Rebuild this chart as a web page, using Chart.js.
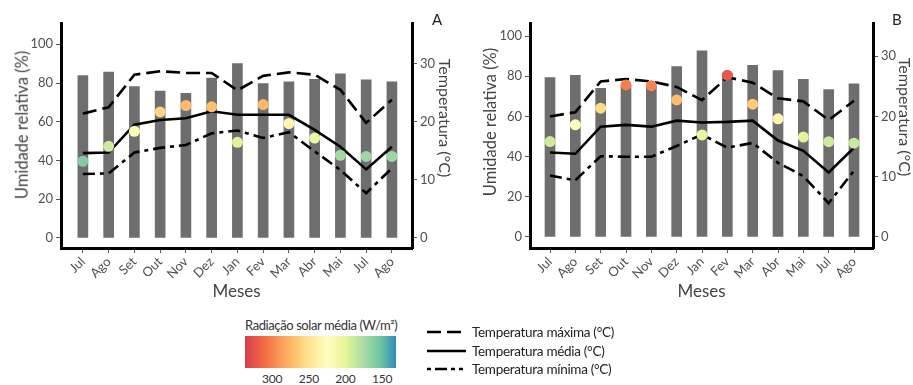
<!DOCTYPE html>
<html>
<head>
<meta charset="utf-8">
<script src="https://cdn.jsdelivr.net/npm/chart.js@4.4.1/dist/chart.umd.min.js"></script>
<style>
  body { margin: 0; background: #fff; font-family: Lato, "Open Sans", sans-serif; }
  #wrap { position: relative; width: 913px; height: 385px; overflow: hidden; }
  canvas { position: absolute; top: 0; }
  .lbl { position: absolute; color: #222; font-size: 15px; line-height: 1; }
  .ytitle { position: absolute; color: #444; font-size: 16.5px; white-space: nowrap; line-height: 1; }
  .ytitle.l { transform: translate(-50%, -50%) rotate(-90deg); }
  .ytitle.r { transform: translate(-50%, -50%) rotate(90deg); font-size: 16px; }
  .tick { position: absolute; color: #333; font-size: 12px; letter-spacing: -0.2px; transform: translateX(-50%); }
  .leg { position: absolute; left: 472px; color: #222; font-size: 13.5px; letter-spacing: -0.3px; line-height: 18px; }
</style>
</head>
<body>
<div id="wrap">
  <canvas id="chartA" width="458" height="305" style="left:0"></canvas>
  <canvas id="chartB" width="435" height="305" style="left:478px"></canvas>
  <div class="lbl" style="left:432px;top:12px">A</div>
  <div class="lbl" style="left:892px;top:12px">B</div>

  <div class="ytitle l" style="left:21.5px;top:125px">Umidade relativa (%)</div>
  <div class="ytitle r" style="left:445px;top:118px">Temperatura (°C)</div>
  <div class="ytitle l" style="left:490px;top:122px">Umidade relativa (%)</div>
  <div class="ytitle r" style="left:905px;top:117px">Temperatura (°C)</div>

  <div class="leg" style="left:245px;top:316px;color:#333;font-size:13px;letter-spacing:-0.4px">Radiação solar média (W/m²)</div>
  <div id="cbar" style="position:absolute;left:245px;top:336px;width:151px;height:32px"></div>
  <div id="cbTicks"></div>

  <svg style="position:absolute;left:0;top:0" width="913" height="385">
    <line x1="427" y1="332" x2="466" y2="332" stroke="#000" stroke-width="2.6" stroke-dasharray="14 6"/>
    <line x1="427" y1="351" x2="466" y2="351" stroke="#000" stroke-width="2.6"/>
    <line x1="427" y1="369" x2="466" y2="369" stroke="#000" stroke-width="2.6" stroke-dasharray="4 4 12 4 4"/>
  </svg>
  <div class="leg" style="top:323px">Temperatura máxima (°C)</div>
  <div class="leg" style="top:342px">Temperatura média (°C)</div>
  <div class="leg" style="top:360px">Temperatura mínima (°C)</div>
</div>

<script>
// meses (jul do 1º ano até ago do ano seguinte)
const months = ['Jul', 'Ago', 'Set', 'Out', 'Nov', 'Dez', 'Jan', 'Fev', 'Mar', 'Abr', 'Mai', 'Jul', 'Ago'];
const humTicks = [0, 20, 40, 60, 80, 100];
const tempTicks = [0, 10, 20, 30];
const radTicks = [300, 250, 200, 150];

// painel A
const humA = [83.8, 85.7, 78.1, 75.9, 74.7, 82.6, 90.0, 79.7, 80.6, 81.9, 84.7, 81.7, 80.6];
const tmaxA = [21.4, 22.5, 28.1, 28.7, 28.4, 28.4, 25.4, 27.9, 28.5, 28.1, 25.5, 19.8, 23.8];
const tmedA = [14.6, 14.7, 19.5, 20.3, 20.6, 21.8, 21.2, 21.2, 21.2, 18.6, 15.7, 11.8, 15.7];
const tminA = [11.0, 11.1, 14.7, 15.5, 16.0, 18.0, 18.5, 17.2, 18.2, 14.9, 11.7, 7.7, 12.0];
const radPosA = [39.6, 47.3, 55.1, 65.1, 68.4, 67.7, 49.4, 68.9, 59.1, 51.6, 42.7, 42.1, 42.1];
const radA = [160, 190, 220, 258, 272, 270, 198, 275, 235, 205, 172, 170, 170];

// painel B
const humB = [79.3, 80.4, 74.0, 75.5, 75.5, 84.8, 92.7, 81.5, 85.4, 82.8, 78.5, 73.3, 76.2];
const tmaxB = [20.0, 20.7, 25.8, 26.2, 25.8, 24.9, 22.7, 26.5, 25.6, 23.0, 22.5, 19.4, 22.6];
const tmedB = [14.0, 13.8, 18.3, 18.6, 18.3, 19.3, 19.0, 19.1, 19.3, 16.0, 14.3, 10.7, 14.8];
const tminB = [10.2, 9.4, 13.4, 13.3, 13.3, 15.1, 17.0, 14.8, 15.6, 12.3, 10.1, 5.6, 11.0];
const radPosB = [47.5, 55.8, 64.1, 75.7, 75.3, 68.2, 50.8, 80.5, 66.1, 58.8, 49.7, 47.4, 46.7];
const radB = [190, 222, 255, 302, 300, 272, 203, 322, 264, 235, 199, 190, 187];

// escala de cores da radiação (valor, cor)
const radMin = 131, radMax = 337;
const radStops = [
  [337, '#d53e4f'], [310, '#f46d43'], [280, '#fdae61'], [252, '#fee08b'], [225, '#ffffbf'],
  [200, '#e6f598'], [175, '#abdda4'], [150, '#66c2a5'], [131, '#3288bd']
];

function hex2rgb(h) {
  return [parseInt(h.slice(1, 3), 16), parseInt(h.slice(3, 5), 16), parseInt(h.slice(5, 7), 16)];
}

function radColor(v) {
  for (let i = 0; i < radStops.length - 1; i++) {
    const [v0, c0] = radStops[i], [v1, c1] = radStops[i + 1];
    if (v <= v0 && v >= v1) {
      const t = (v0 - v) / (v0 - v1);
      const a = hex2rgb(c0), b = hex2rgb(c1);
      const c = a.map((x, k) => Math.round(x + (b[k] - x) * t));
      return 'rgb(' + c.join(',') + ')';
    }
  }
  return v > radMax ? radStops[0][1] : radStops[radStops.length - 1][1];
}

// barra de cores + rótulos
document.getElementById('cbar').style.background = 'linear-gradient(to right, ' +
  radStops.map(s => s[1] + ' ' + ((radMax - s[0]) / (radMax - radMin) * 100).toFixed(1) + '%').join(', ') + ')';
const cbTicks = document.getElementById('cbTicks');
radTicks.forEach(v => {
  const d = document.createElement('div');
  d.className = 'tick';
  d.style.left = (245 + (radMax - v) / (radMax - radMin) * 151) + 'px';
  d.style.top = '371px';
  d.textContent = v;
  cbTicks.appendChild(d);
});

const font = 'Lato';
const xy = arr => arr.map((v, i) => ({ x: i, y: v }));

function panel(id, o) {
  new Chart(document.getElementById(id), {
    type: 'bar',
    data: {
      datasets: [
        {
          type: 'line', data: xy(o.radPos), showLine: false, yAxisID: 'y',
          pointRadius: 5.5, pointHoverRadius: 5.5, pointBorderWidth: 0,
          pointBackgroundColor: o.rad.map(radColor), order: 0
        },
        {
          type: 'line', data: xy(o.tmax), yAxisID: 'y2', borderColor: '#000', borderWidth: 2.6,
          borderDash: [14, 6], pointRadius: 0, tension: 0, order: 1
        },
        {
          type: 'line', data: xy(o.tmed), yAxisID: 'y2', borderColor: '#000', borderWidth: 2.6,
          pointRadius: 0, tension: 0, order: 2
        },
        {
          type: 'line', data: xy(o.tmin), yAxisID: 'y2', borderColor: '#000', borderWidth: 2.6,
          borderDash: [12, 5, 4, 5], pointRadius: 0, tension: 0, order: 3
        },
        {
          type: 'bar', data: xy(o.hum), yAxisID: 'y', backgroundColor: '#6e6e6e',
          barThickness: 10, order: 4
        }
      ]
    },
    options: {
      responsive: false,
      animation: false,
      layout: { padding: { top: 23 } },
      plugins: { legend: { display: false }, tooltip: { enabled: false } },
      scales: {
        x: {
          type: 'linear', min: o.xmin, max: o.xmax, offset: false,
          afterBuildTicks: s => { s.ticks = months.map((m, i) => ({ value: i })); },
          afterFit: s => { s.height = 57; },
          ticks: {
            autoSkip: false, minRotation: 45, maxRotation: 45, padding: 1,
            color: '#505050', font: { family: font, size: 13 },
            callback: v => months[Math.round(v)]
          },
          grid: { drawOnChartArea: false, tickLength: 5, color: '#555', offset: false },
          border: { color: '#000', width: 3 },
          title: {
            display: true, text: 'Meses', color: '#444',
            font: { family: font, size: 17 }, padding: { top: 0, bottom: 3 }
          }
        },
        y: {
          position: 'left', min: o.ymin, max: o.ymax,
          afterBuildTicks: s => { s.ticks = humTicks.map(v => ({ value: v })); },
          afterFit: s => { s.width = o.leftW; },
          ticks: { color: '#505050', font: { family: font, size: 13 }, padding: 3 },
          grid: { drawOnChartArea: false, tickLength: 5, color: '#555' },
          border: { color: '#000', width: 3 }
        },
        y2: {
          position: 'right', min: o.ymin / 3, max: o.ymax / 3,
          afterBuildTicks: s => { s.ticks = tempTicks.map(v => ({ value: v })); },
          afterFit: s => { s.width = o.rightW; },
          ticks: { color: '#505050', font: { family: font, size: 13 }, padding: 3 },
          grid: { drawOnChartArea: false, tickLength: 5, color: '#555' },
          border: { color: '#000', width: 3 }
        }
      }
    }
  });
}

panel('chartA', {
  hum: humA, tmax: tmaxA, tmed: tmedA, tmin: tminA, radPos: radPosA, rad: radA,
  xmin: -0.85, xmax: 12.78, ymin: -5.2, ymax: 111, leftW: 61, rightW: 46
});
panel('chartB', {
  hum: humB, tmax: tmaxB, tmed: tmedB, tmin: tminB, radPos: radPosB, rad: radB,
  xmin: -0.79, xmax: 12.75, ymin: -5.5, ymax: 106.5, leftW: 52, rightW: 40
});
</script>
</body>
</html>
